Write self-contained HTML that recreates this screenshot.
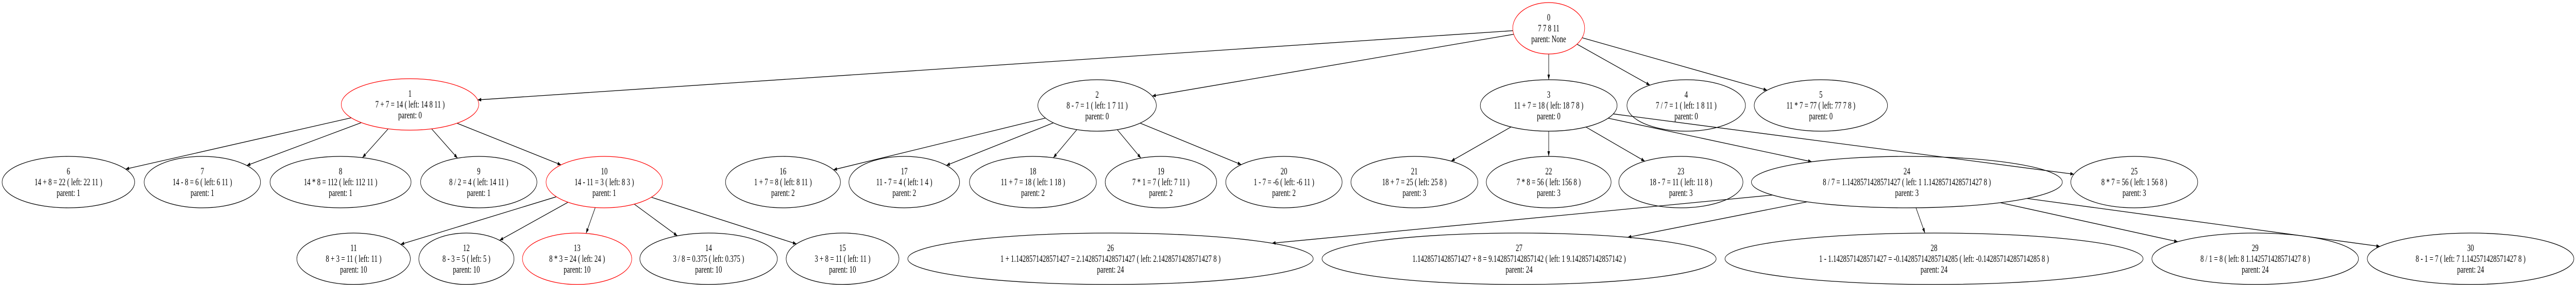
<!DOCTYPE html>
<html><head><meta charset="utf-8">
<style>
html,body{margin:0;padding:0;background:#fff;width:100%;height:100%;overflow:hidden;}
svg{display:block;width:100vw;height:100vh;}
text{font-family:"Liberation Serif",serif;font-size:19px;fill:#000;text-anchor:middle;}
</style></head>
<body>
<svg id="g" viewBox="0 0 7307 554" preserveAspectRatio="none" xmlns="http://www.w3.org/2000/svg">
<defs><marker id="a" viewBox="0 0 10 10" refX="10" refY="5" markerWidth="10" markerHeight="10" markerUnits="userSpaceOnUse" orient="auto"><path d="M0,1.5 L10,5 L0,8.5 z" fill="#000"/></marker></defs>
<g id="edges"></g>
<g fill="none" stroke-width="1.3">
<ellipse cx="4393" cy="55" rx="102" ry="50" stroke="red"/>
<ellipse cx="1163" cy="203" rx="195" ry="50" stroke="red"/>
<ellipse cx="3112" cy="205" rx="168" ry="50" stroke="#000"/>
<ellipse cx="4393" cy="205" rx="194" ry="50" stroke="#000"/>
<ellipse cx="4783" cy="205" rx="168" ry="50" stroke="#000"/>
<ellipse cx="5165" cy="205" rx="189" ry="50" stroke="#000"/>
<ellipse cx="194" cy="354" rx="188" ry="50" stroke="#000"/>
<ellipse cx="574" cy="354" rx="165" ry="50" stroke="#000"/>
<ellipse cx="966" cy="354" rx="200" ry="50" stroke="#000"/>
<ellipse cx="1358" cy="354" rx="165" ry="50" stroke="#000"/>
<ellipse cx="1714" cy="354" rx="165" ry="50" stroke="red"/>
<ellipse cx="1003" cy="503" rx="161" ry="50" stroke="#000"/>
<ellipse cx="1323" cy="503" rx="135" ry="50" stroke="#000"/>
<ellipse cx="1637" cy="503" rx="155" ry="50" stroke="red"/>
<ellipse cx="2010" cy="503" rx="195" ry="50" stroke="#000"/>
<ellipse cx="2390" cy="503" rx="160" ry="50" stroke="#000"/>
<ellipse cx="2221" cy="354" rx="163" ry="50" stroke="#000"/>
<ellipse cx="2565" cy="354" rx="157" ry="50" stroke="#000"/>
<ellipse cx="2930" cy="354" rx="180" ry="50" stroke="#000"/>
<ellipse cx="3293" cy="354" rx="158" ry="50" stroke="#000"/>
<ellipse cx="3642" cy="354" rx="165" ry="50" stroke="#000"/>
<ellipse cx="4012" cy="354" rx="180" ry="50" stroke="#000"/>
<ellipse cx="4393" cy="354" rx="177" ry="50" stroke="#000"/>
<ellipse cx="4768" cy="354" rx="176" ry="50" stroke="#000"/>
<ellipse cx="5409" cy="354" rx="441" ry="50" stroke="#000"/>
<ellipse cx="6054" cy="354" rx="180" ry="50" stroke="#000"/>
<ellipse cx="3150" cy="503" rx="575" ry="50" stroke="#000"/>
<ellipse cx="4309" cy="503" rx="559" ry="50" stroke="#000"/>
<ellipse cx="5486" cy="503" rx="593" ry="50" stroke="#000"/>
<ellipse cx="6397" cy="503" rx="293" ry="50" stroke="#000"/>
<ellipse cx="7008" cy="503" rx="293" ry="50" stroke="#000"/>
</g>
<g>
<text x="4393" y="40">0</text><text x="4393" y="61">7 7 8 11</text><text x="4393" y="82">parent: None</text>
<text x="1163" y="188">1</text><text x="1163" y="209">7 + 7 = 14 ( left: 14 8 11 )</text><text x="1163" y="230">parent: 0</text>
<text x="3112" y="190">2</text><text x="3112" y="211">8 - 7 = 1 ( left: 1 7 11 )</text><text x="3112" y="232">parent: 0</text>
<text x="4393" y="190">3</text><text x="4393" y="211">11 + 7 = 18 ( left: 18 7 8 )</text><text x="4393" y="232">parent: 0</text>
<text x="4783" y="190">4</text><text x="4783" y="211">7 / 7 = 1 ( left: 1 8 11 )</text><text x="4783" y="232">parent: 0</text>
<text x="5165" y="190">5</text><text x="5165" y="211">11 * 7 = 77 ( left: 77 7 8 )</text><text x="5165" y="232">parent: 0</text>
<text x="194" y="339">6</text><text x="194" y="360">14 + 8 = 22 ( left: 22 11 )</text><text x="194" y="381">parent: 1</text>
<text x="574" y="339">7</text><text x="574" y="360">14 - 8 = 6 ( left: 6 11 )</text><text x="574" y="381">parent: 1</text>
<text x="966" y="339">8</text><text x="966" y="360">14 * 8 = 112 ( left: 112 11 )</text><text x="966" y="381">parent: 1</text>
<text x="1358" y="339">9</text><text x="1358" y="360">8 / 2 = 4 ( left: 14 11 )</text><text x="1358" y="381">parent: 1</text>
<text x="1714" y="339">10</text><text x="1714" y="360">14 - 11 = 3 ( left: 8 3 )</text><text x="1714" y="381">parent: 1</text>
<text x="1003" y="488">11</text><text x="1003" y="509">8 + 3 = 11 ( left: 11 )</text><text x="1003" y="530">parent: 10</text>
<text x="1323" y="488">12</text><text x="1323" y="509">8 - 3 = 5 ( left: 5 )</text><text x="1323" y="530">parent: 10</text>
<text x="1637" y="488">13</text><text x="1637" y="509">8 * 3 = 24 ( left: 24 )</text><text x="1637" y="530">parent: 10</text>
<text x="2010" y="488">14</text><text x="2010" y="509">3 / 8 = 0.375 ( left: 0.375 )</text><text x="2010" y="530">parent: 10</text>
<text x="2390" y="488">15</text><text x="2390" y="509">3 + 8 = 11 ( left: 11 )</text><text x="2390" y="530">parent: 10</text>
<text x="2221" y="339">16</text><text x="2221" y="360">1 + 7 = 8 ( left: 8 11 )</text><text x="2221" y="381">parent: 2</text>
<text x="2565" y="339">17</text><text x="2565" y="360">11 - 7 = 4 ( left: 1 4 )</text><text x="2565" y="381">parent: 2</text>
<text x="2930" y="339">18</text><text x="2930" y="360">11 + 7 = 18 ( left: 1 18 )</text><text x="2930" y="381">parent: 2</text>
<text x="3293" y="339">19</text><text x="3293" y="360">7 * 1 = 7 ( left: 7 11 )</text><text x="3293" y="381">parent: 2</text>
<text x="3642" y="339">20</text><text x="3642" y="360">1 - 7 = -6 ( left: -6 11 )</text><text x="3642" y="381">parent: 2</text>
<text x="4012" y="339">21</text><text x="4012" y="360">18 + 7 = 25 ( left: 25 8 )</text><text x="4012" y="381">parent: 3</text>
<text x="4393" y="339">22</text><text x="4393" y="360">7 * 8 = 56 ( left: 156 8 )</text><text x="4393" y="381">parent: 3</text>
<text x="4768" y="339">23</text><text x="4768" y="360">18 - 7 = 11 ( left: 11 8 )</text><text x="4768" y="381">parent: 3</text>
<text x="5409" y="339">24</text><text x="5409" y="360">8 / 7 = 1.1428571428571427 ( left: 1 1.1428571428571427 8 )</text><text x="5409" y="381">parent: 3</text>
<text x="6054" y="339">25</text><text x="6054" y="360">8 * 7 = 56 ( left: 1 56 8 )</text><text x="6054" y="381">parent: 3</text>
<text x="3150" y="488">26</text><text x="3150" y="509">1 + 1.1428571428571427 = 2.1428571428571427 ( left: 2.1428571428571427 8 )</text><text x="3150" y="530">parent: 24</text>
<text x="4309" y="488">27</text><text x="4309" y="509">1.1428571428571427 + 8 = 9.142857142857142 ( left: 1 9.142857142857142 )</text><text x="4309" y="530">parent: 24</text>
<text x="5486" y="488">28</text><text x="5486" y="509">1 - 1.1428571428571427 = -0.14285714285714285 ( left: -0.14285714285714285 8 )</text><text x="5486" y="530">parent: 24</text>
<text x="6397" y="488">29</text><text x="6397" y="509">8 / 1 = 8 ( left: 8 1.142571428571427 8 )</text><text x="6397" y="530">parent: 24</text>
<text x="7008" y="488">30</text><text x="7008" y="509">8 - 1 = 7 ( left: 7 1.142571428571427 8 )</text><text x="7008" y="530">parent: 24</text>
</g>
</svg>
<script>
var N={0:[4393,55,102],1:[1163,203,195],2:[3112,205,168],3:[4393,205,194],4:[4783,205,168],5:[5165,205,189],
6:[194,354,188],7:[574,354,165],8:[966,354,200],9:[1358,354,165],10:[1714,354,165],
11:[1003,503,161],12:[1323,503,135],13:[1637,503,155],14:[2010,503,195],15:[2390,503,160],
16:[2221,354,163],17:[2565,354,157],18:[2930,354,180],19:[3293,354,158],20:[3642,354,165],
21:[4012,354,180],22:[4393,354,177],23:[4768,354,176],24:[5409,354,441],25:[6054,354,180],
26:[3150,503,575],27:[4309,503,559],28:[5486,503,593],29:[6397,503,293],30:[7008,503,293]};
var E=[[0,1],[0,2],[0,3],[0,4],[0,5],[1,6],[1,7],[1,8],[1,9],[1,10],[10,11],[10,12],[10,13],[10,14],[10,15],
[2,16],[2,17],[2,18],[2,19],[2,20],[3,21],[3,22],[3,23],[3,24],[3,25],[24,26],[24,27],[24,28],[24,29],[24,30]];
function clip(n,dx,dy){var rx=n[2],ry=50;var t=1/Math.sqrt(dx*dx/(rx*rx)+dy*dy/(ry*ry));return [n[0]+dx*t,n[1]+dy*t];}
var g=document.getElementById('edges'),s='';
E.forEach(function(e){var p=N[e[0]],c=N[e[1]];var dx=c[0]-p[0],dy=c[1]-p[1];
var a=clip(p,dx,dy),b=clip(c,-dx,-dy);
s+='<line x1="'+a[0]+'" y1="'+a[1]+'" x2="'+b[0]+'" y2="'+b[1]+'" stroke="#000" stroke-width="1.3" marker-end="url(#a)"/>';});
g.innerHTML=s;
</script>
</body></html>
